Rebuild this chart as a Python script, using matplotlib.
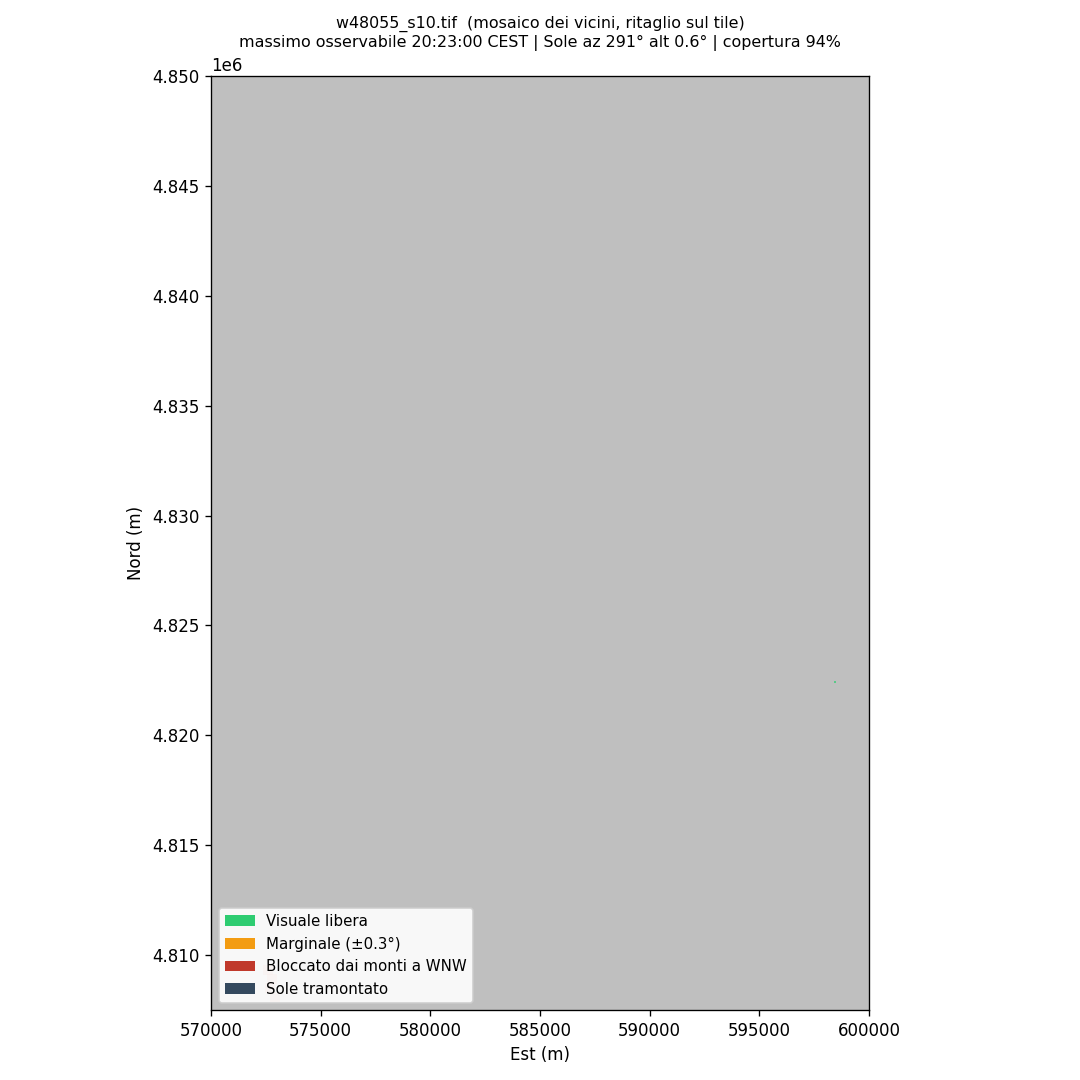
"""Mappa di visibilita' del tramonto per il tile w48055_s10."""
import matplotlib
matplotlib.use("Agg")
import matplotlib.pyplot as plt
from matplotlib.patches import Patch

X_RANGE = [570000, 600000]
Y_RANGE = [4807500, 4850000]
NODATA_COLOR = "#bfbfbf"

# pochi pixel visibili nel raster
CLEAR_X = [598450]
CLEAR_Y = [4822420]

# chiazza rossa appena visibile sotto la legenda
BLOCKED_X = [572600, 572800, 572700, 572900]
BLOCKED_Y = [4809300, 4808900, 4808500, 4808100]

CLASS_LABELS = ["Visuale libera", "Marginale (±0.3°)", "Bloccato dai monti a WNW", "Sole tramontato"]
CLASS_COLORS = ["#2ecc71", "#f39c12", "#c0392b", "#34495e"]

TITLE = ("w48055_s10.tif  (mosaico dei vicini, ritaglio sul tile)\n"
         "massimo osservabile 20:23:00 CEST | Sole az 291° alt 0.6° | copertura 94%")

plt.rcParams["font.size"] = 10

fig = plt.figure(figsize=(9, 9), dpi=120)
ax = fig.add_axes([211 / 1080, 1 - 1010 / 1080, 658 / 1080, 934 / 1080])
ax.set_facecolor(NODATA_COLOR)
ax.scatter(CLEAR_X, CLEAR_Y, s=1.5, marker="s", color=CLASS_COLORS[0], alpha=0.7, linewidths=0)
ax.scatter(BLOCKED_X, BLOCKED_Y, s=30, marker="s", color=CLASS_COLORS[2], alpha=0.4, linewidths=0)
ax.set_xlim(X_RANGE)
ax.set_ylim(Y_RANGE)
ax.set_xlabel("Est (m)")
ax.set_ylabel("Nord (m)")
ax.set_title(TITLE, fontsize=9.5, pad=17.5)

handles = [Patch(facecolor=c, linewidth=0, label=l) for c, l in zip(CLASS_COLORS, CLASS_LABELS)]
ax.legend(handles=handles, loc="lower left", fontsize=9, framealpha=0.9)

fig.savefig("out.png", dpi=120)
